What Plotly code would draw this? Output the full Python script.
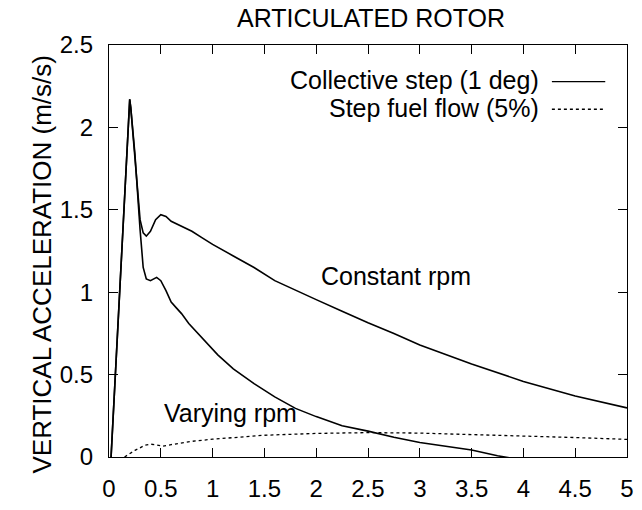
import plotly.graph_objects as go

# Time axis (s) and vertical acceleration (m/s/s) responses
t_const = [0.02, 0.1, 0.19, 0.2, 0.21, 0.25, 0.3, 0.33, 0.36, 0.4, 0.45, 0.5, 0.55, 0.6,
           0.7, 0.8, 0.9, 1.0, 1.2, 1.4, 1.6, 1.8, 2.0, 2.25, 2.5, 2.75, 3.0, 3.5,
           4.0, 4.5, 5.0]
acc_const = [0.0, 0.96, 2.12, 2.17, 2.12, 1.84, 1.44, 1.36, 1.34, 1.37, 1.44, 1.47, 1.46,
             1.43, 1.40, 1.37, 1.33, 1.29, 1.22, 1.15, 1.07, 1.01, 0.955, 0.885, 0.815,
             0.75, 0.68, 0.565, 0.458, 0.37, 0.298]

t_vary = [0.02, 0.1, 0.19, 0.2, 0.21, 0.25, 0.3, 0.33, 0.36, 0.4, 0.46, 0.5, 0.55, 0.6,
          0.65, 0.7, 0.77, 0.9, 1.05, 1.2, 1.4, 1.6, 1.8, 2.0, 2.25, 2.5, 2.75, 3.0,
          3.25, 3.5, 3.75, 4.0, 4.5, 5.0]
acc_vary = [0.0, 0.96, 2.12, 2.17, 2.12, 1.84, 1.38, 1.15, 1.08, 1.07, 1.09, 1.07, 1.01,
            0.94, 0.905, 0.87, 0.81, 0.72, 0.62, 0.535, 0.445, 0.365, 0.295, 0.245,
            0.19, 0.157, 0.12, 0.088, 0.063, 0.042, 0.008, -0.02, -0.07, -0.1]

t_fuel = [0.15, 0.25, 0.35, 0.4, 0.45, 0.52, 0.6, 0.8, 1.0, 1.25, 1.5, 2.0, 2.5, 3.0,
          3.5, 4.0, 4.5, 5.0]
acc_fuel = [0.0, 0.04, 0.072, 0.078, 0.074, 0.066, 0.075, 0.095, 0.108, 0.122, 0.132,
            0.143, 0.148, 0.145, 0.137, 0.128, 0.118, 0.107]

x_ticks = [0, 0.5, 1, 1.5, 2, 2.5, 3, 3.5, 4, 4.5, 5]
x_labels = ["0", "0.5", "1", "1.5", "2", "2.5", "3", "3.5", "4", "4.5", "5"]
y_ticks = [0, 0.5, 1, 1.5, 2, 2.5]
y_labels = ["0", "0.5", "1", "1.5", "2", "2.5"]

legend_entries = ["Collective step (1 deg)", "Step fuel flow (5%)"]

FONT = "Liberation Sans, Arial, Helvetica, sans-serif"

fig = go.Figure()
fig.add_trace(go.Scatter(x=t_const, y=acc_const, mode="lines",
                         line=dict(color="black", width=1.6), showlegend=False))
fig.add_trace(go.Scatter(x=t_vary, y=acc_vary, mode="lines",
                         line=dict(color="black", width=1.6), showlegend=False))
fig.add_trace(go.Scatter(x=t_fuel, y=acc_fuel, mode="lines",
                         line=dict(color="black", width=1.3, dash="3px,3px"),
                         showlegend=False))

axis_common = dict(
    showgrid=False, zeroline=False, showline=True, linecolor="black", linewidth=1.3,
    mirror="ticks", ticks="inside", ticklen=9, tickwidth=1.3, tickcolor="black",
    tickfont=dict(family=FONT, size=24, color="black"),
)
fig.update_xaxes(range=[0, 5], tickvals=x_ticks, ticktext=x_labels,
                 ticklabelstandoff=10, **axis_common)
fig.update_yaxes(range=[0, 2.5], tickvals=y_ticks, ticktext=y_labels,
                 ticklabelstandoff=10, **axis_common)

# Rotated y-axis label
fig.add_annotation(xref="paper", yref="paper", x=-0.1295, y=0.467,
                   text="VERTICAL ACCELERATION (m/s/s)", textangle=-90,
                   showarrow=False, xanchor="center", yanchor="middle",
                   font=dict(family=FONT, size=26, color="black"))

# Curve labels
fig.add_annotation(x=2.03, y=1.096, text="Constant rpm", showarrow=False,
                   xanchor="left", yanchor="middle",
                   font=dict(family=FONT, size=25, color="black"))
fig.add_annotation(x=0.514, y=0.268, text="Varying rpm", showarrow=False,
                   xanchor="left", yanchor="middle",
                   font=dict(family=FONT, size=25, color="black"))

# Key: text on the left, line sample on the right
key_rows_y = [0.915, 0.848]
key_dash = ["solid", "3px,3px"]
for label, ry, dash in zip(legend_entries, key_rows_y, key_dash):
    fig.add_annotation(xref="paper", yref="paper", x=0.834, y=ry, text=label,
                       showarrow=False, xanchor="right", yanchor="middle",
                       font=dict(family=FONT, size=25, color="black"))
    fig.add_shape(type="line", xref="paper", yref="paper", x0=0.855, x1=0.958,
                  y0=ry - 0.004, y1=ry - 0.004,
                  line=dict(color="black", width=1.4, dash=dash))

fig.update_layout(
    width=642, height=510,
    margin=dict(l=109, r=8, t=45, b=43),
    paper_bgcolor="white", plot_bgcolor="white",
    title=dict(text="ARTICULATED ROTOR", x=0.578, xanchor="center", y=0.965,
               yanchor="middle", font=dict(family=FONT, size=25, color="black")),
)

fig.write_html("out.html")
